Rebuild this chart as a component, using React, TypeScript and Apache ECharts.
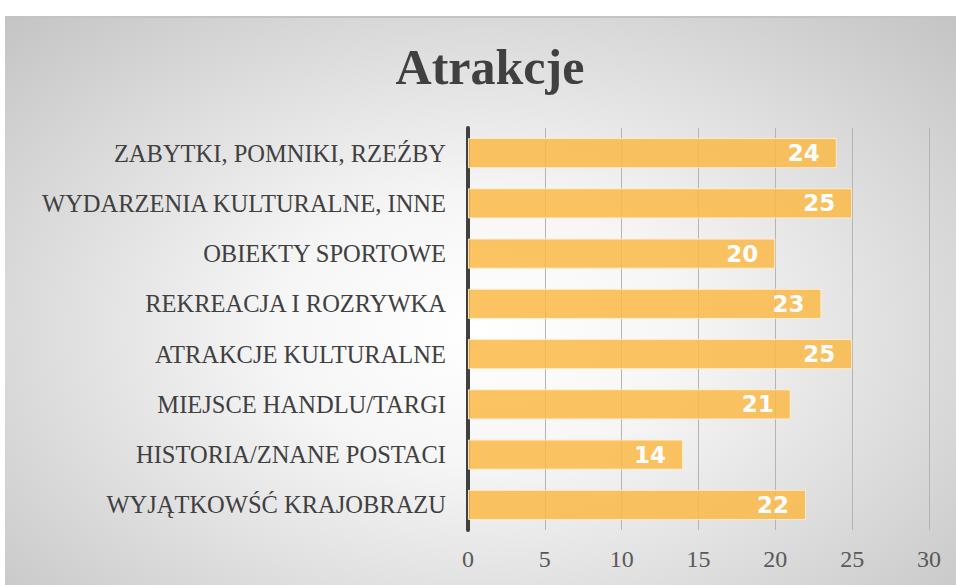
import React, { useEffect, useRef } from "react";
import * as echarts from "echarts";

const categories = [
  "ZABYTKI, POMNIKI, RZEŹBY",
  "WYDARZENIA KULTURALNE, INNE",
  "OBIEKTY SPORTOWE",
  "REKREACJA I ROZRYWKA",
  "ATRAKCJE KULTURALNE",
  "MIEJSCE HANDLU/TARGI",
  "HISTORIA/ZNANE POSTACI",
  "WYJĄTKOWŚĆ KRAJOBRAZU",
];
const values = [24, 25, 20, 23, 25, 21, 14, 22];
const titleText = "Atrakcje";

export default function App() {
  const ref = useRef<HTMLDivElement>(null);
  useEffect(() => {
    if (!ref.current) return;
    const chart = echarts.init(ref.current, null, { renderer: "svg" });
    chart.setOption({
      animation: false,
      backgroundColor: "transparent",
      graphic: [
        {
          type: "text",
          style: {
            text: titleText,
            x: 490,
            y: 67,
            textAlign: "center",
            textVerticalAlign: "middle",
            fontFamily: "Liberation Serif",
            fontWeight: "bold",
            fontSize: 50,
            fill: "#404040",
          },
        },
      ],
      grid: { left: 468, right: 27, top: 128, bottom: 55, containLabel: false },
      xAxis: {
        type: "value",
        min: 0,
        max: 30,
        interval: 5,
        axisLine: { show: false },
        axisTick: { show: false },
        splitLine: { lineStyle: { color: "#b4b4b4", width: 1 } },
        axisLabel: {
          fontFamily: "Liberation Serif",
          fontSize: 24,
          color: "#595959",
          margin: 17,
        },
      },
      yAxis: {
        type: "category",
        data: categories,
        inverse: true,
        axisLine: { show: true, lineStyle: { color: "#404040", width: 4 } },
        axisTick: { show: false },
        axisLabel: {
          fontFamily: "Liberation Serif",
          fontSize: 24.5,
          color: "#404040",
          margin: 22,
        },
      },
      series: [
        {
          type: "bar",
          data: values,
          barWidth: "60%",
          itemStyle: {
            color: "rgba(252,184,70,0.85)",
            borderColor: "rgba(255,240,210,0.9)",
            borderWidth: 1,
          },
          label: {
            show: true,
            position: "insideRight",
            distance: 17,
            color: "#ffffff",
            fontFamily: "DejaVu Sans",
            fontWeight: "bold",
            fontSize: 23,
          },
        },
      ],
    });
    return () => chart.dispose();
  }, []);
  return (
    <div style={{ position: "fixed", left: 0, top: 0, width: 956, height: 585, background: "#ffffff" }}>
      <div
        style={{
          position: "absolute",
          left: 5,
          top: 16,
          right: 0,
          bottom: 0,
          borderTop: "2px solid #c4c4c4",
          background:
            "radial-gradient(ellipse farthest-corner at 50% 55%, #ffffff 0%, #f6f6f6 30%, #c4c4c4 100%)",
        }}
      />
      <div ref={ref} style={{ position: "absolute", left: 0, top: 0, width: 956, height: 585 }} />
    </div>
  );
}
